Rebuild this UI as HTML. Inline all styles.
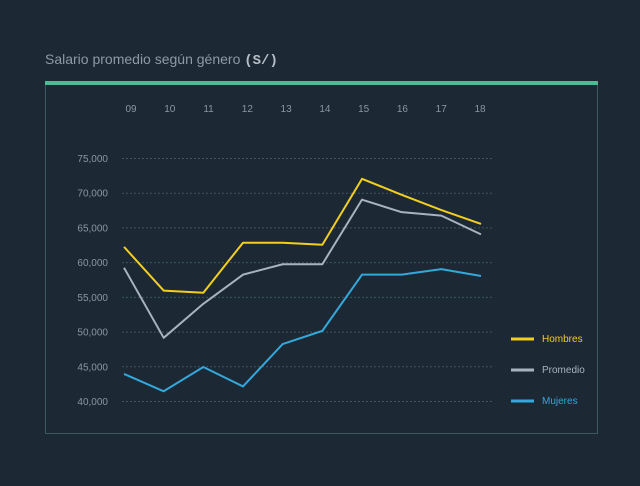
<!DOCTYPE html>
<html><head><meta charset="utf-8"><style>
html,body{margin:0;padding:0;background:#1c2834;}
body{width:640px;height:481px;overflow:hidden;font-family:"Liberation Sans",sans-serif;}
</style></head><body>
<svg width="640" height="481" viewBox="0 0 640 481" font-family="Liberation Sans, sans-serif">
<rect width="640" height="481" fill="#1c2834"/>
<text x="45" y="64" font-size="14" fill="#8e9aa6">Salario promedio según género <tspan font-family="Liberation Mono, monospace" font-weight="bold" fill="#b7c0c8">(S/)</tspan></text>
<rect x="45.5" y="84.5" width="552" height="349" fill="none" stroke="#3a5a60" stroke-width="1"/>
<rect x="45" y="81" width="553" height="4" fill="#4dbb94"/>
<g id="grid"></g><g id="xlabels"></g><g id="ylabels"></g><g id="lines"></g>
<g>
<line x1="511" y1="339" x2="534" y2="339" stroke="#f2cf1f" stroke-width="3"/>
<text x="542" y="342" font-size="10" fill="#f2cf1f">Hombres</text>
<line x1="511" y1="370" x2="534" y2="370" stroke="#a9b3bd" stroke-width="3"/>
<text x="542" y="373" font-size="10" fill="#a9b3bd">Promedio</text>
<line x1="511" y1="401" x2="534" y2="401" stroke="#33a8db" stroke-width="3"/>
<text x="542" y="404" font-size="10" fill="#33a8db">Mujeres</text>
</g>
</svg>
<script>
const years=["09","10","11","12","13","14","15","16","17","18"];
const hombres=[62200,55900,55600,62800,62800,62500,72000,69700,67500,65500];
const promedio=[59200,49100,54000,58200,59700,59700,69000,67200,66700,64000];
const mujeres=[43900,41400,44900,42100,48200,50100,58200,58200,59000,58000];
const yTicks=[40000,45000,50000,55000,60000,65000,70000,75000];
const NS="http://www.w3.org/2000/svg";
function x(i){return 124+i*(481-124)/(years.length-1);}
function xl(i){return 131+i*(480-131)/(years.length-1);}
function y(v){return 401-(v-40000)*(401-158)/35000;}
function mk(t,a,p){const e=document.createElementNS(NS,t);for(const k in a)e.setAttribute(k,a[k]);p.appendChild(e);return e;}
const grid=document.getElementById('grid'),yl=document.getElementById('ylabels'),xlG=document.getElementById('xlabels'),lines=document.getElementById('lines');
yTicks.forEach(v=>{
  const l=mk('line',{x1:122,x2:494,y1:y(v)+0.5,y2:y(v)+0.5,stroke:'#3d5560','stroke-width':1,'stroke-dasharray':'2,2'},grid);
  
  
  const t=mk('text',{x:108,y:y(v)+4,'font-size':10,fill:'#8a96a2','text-anchor':'end'},yl);
  t.textContent=v.toLocaleString('en-US');
  
  
});
years.forEach((yr,i)=>{
  const t=mk('text',{x:xl(i),y:112,'font-size':10,fill:'#8a96a2','text-anchor':'middle'},xlG);
  t.textContent=yr;
  
  
});
function series(arr,color,name){
  const p=mk('polyline',{points:arr.map((v,i)=>x(i)+','+y(v)).join(' '),fill:'none',stroke:color,'stroke-width':2,'stroke-linejoin':'round'},lines);
  
  
}
series(promedio,'#a9b3bd','line-promedio');
series(mujeres,'#33a8db','line-mujeres');
series(hombres,'#f2cf1f','line-hombres');
</script>
</body></html>
